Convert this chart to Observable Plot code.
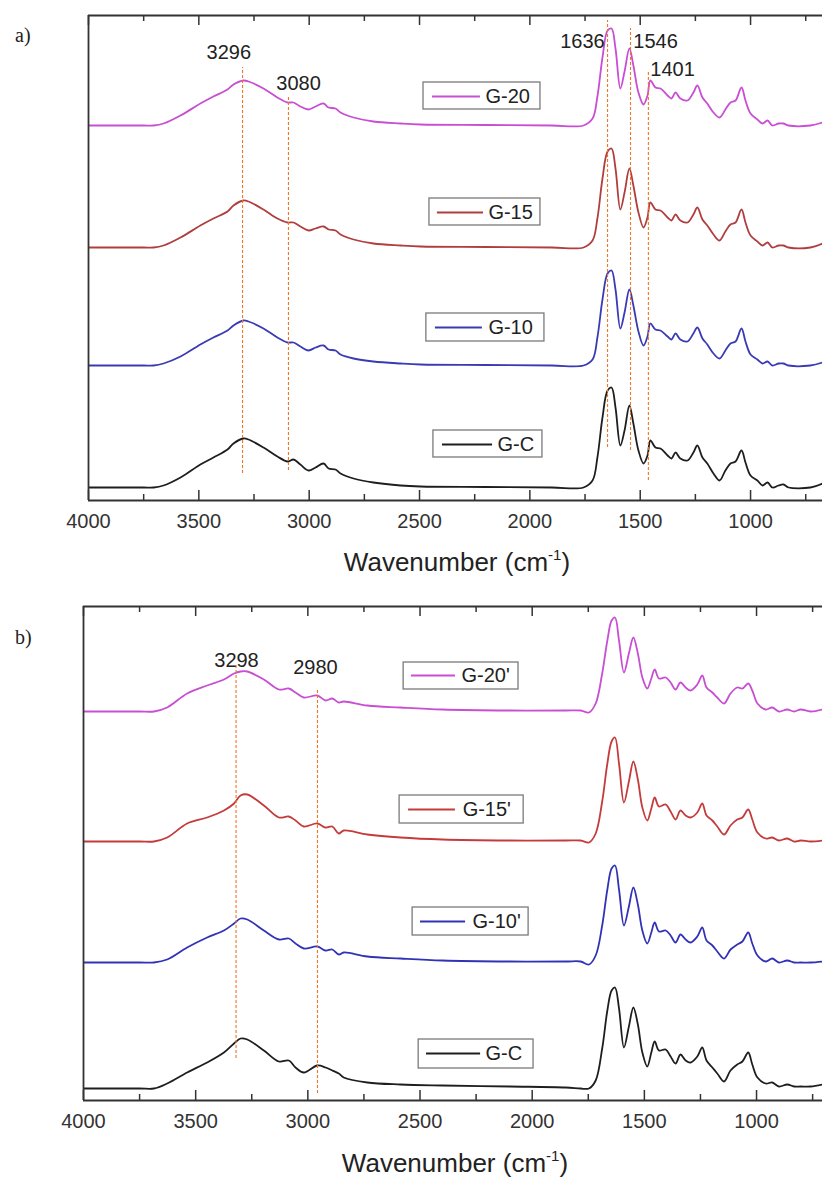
<!DOCTYPE html>
<html><head><meta charset="utf-8">
<script src="https://cdn.jsdelivr.net/npm/d3@7"></script>
<script src="https://cdn.jsdelivr.net/npm/@observablehq/plot@0.6"></script>
<style>
body{margin:0;background:#fff;}
#wrap{position:relative;width:822px;height:1178px;overflow:hidden;background:#fff;}
#wrap svg{display:block;}
.panel{position:absolute;left:0;}
.plabel{position:absolute;font-family:"Liberation Serif","DejaVu Serif",serif;font-size:20px;line-height:20px;color:#222;}
.xtitle{position:absolute;font-family:"Liberation Sans",Arial,sans-serif;font-size:26px;line-height:26px;color:#222;white-space:nowrap;transform:translateX(-50%);}
.xtitle sup{font-size:58%;vertical-align:0.75em;line-height:0;}
</style></head><body>
<div id="wrap">
  <div class="panel" id="pa" style="top:0"></div>
  <div class="panel" id="pb" style="top:590px"></div>
  <div class="plabel" style="left:15px;top:25px">a)</div>
  <div class="plabel" style="left:15px;top:627px">b)</div>
  <div class="xtitle" style="left:457px;top:549px">Wavenumber (cm<sup>-1</sup>)</div>
  <div class="xtitle" style="left:455px;top:1150px">Wavenumber (cm<sup>-1</sup>)</div>
</div>
<script>
// ---------- Panel a data ----------
const wnA = [4000,3750,3705,3660,3583,3493,3434,3370,3343,3298,3275,3207,3144,3098,3071,3040,3003,2971,2935,2912,2881,2858,2799,2709,2586,2496,2200,1900,
  1757,1716,1694,1671,1648,1630,1612,1590,1571,1549,1531,1508,1485,1467,1454,1431,1408,1376,1358,1340,1318,1286,1259,1241,1218,1196,1168,1141,1114,1091,1068,1041,1023,1000,969,946,923,901,873,851,828,729,674];
const g20A = [0,0,0,2,10,22,29,36,41,45, 44,37,28,23,23,19,16,19,22,18, 17,13,8,4,2,1,0.5,0,
  0,7,29,68,95,97,77,37,54,77, 60,33,21,30,45,38,37,30,27,33, 27,25,33,40,28,22,13,8,16,23, 25,38,25,12,6,2,5,0,2,2, 0,0,3];
const g15A = [0,0,0,2,10,22,29,36,42,47, 46,38,29,25,25,21,17,19,21,18, 17,13,8,4,2,1,0.5,0,
  0,7,29,69,96,99,79,38,55,79, 62,35,20,30,45,38,37,30,27,33, 27,25,33,40,28,22,13,7,16,23, 25,38,25,12,6,2,5,0,2,2, 0,0,4];
const g10A = [0,0,0,2,9,21,28,35,40,45, 44,37,28,23,23,19,15,18,20,16, 15,11,7,4,2,1,0.5,0,
  0,6,28,66,92,95,76,37,53,76, 60,34,20,29,42,36,35,29,26,32, 26,24,32,38,27,21,12,7,15,22, 24,37,24,11,6,2,4,0,2,2, 0,0,3];
const gCA = [0,0,0,2,10,23,30,38,44,49, 48,40,31,26,28,23,17,20,24,19, 18,14,9,5,2,1,0.5,0,
  0,7,30,70,97,100,80,42,57,82, 64,37,24,32,47,40,39,32,29,35, 29,27,35,42,30,24,14,7,17,24, 26,37,25,12,7,2,5,0,2,3, 0,0,4];
const namesA = ["G-20","G-15","G-10","G-C"];
const offsetsA = [362,240,122,0];
const guideWnA = [3302,3094,1648,1544,1463];
const guideTopA = [420,392,467,459,415];
const guideBotA = [14,17,40,37,7];
const annTextA = ["3296","3080","1636","1546","1401"];
const annWnA = [3364,3048,1661,1531,1454];
const annVA = [429,398,440,440,412];
const annAnchorA = ["middle","middle","end","start","start"];

// ---------- Panel b data ----------
const wnB = [4000,3750,3686,3627,3538,3449,3374,3329,3300,3270,3196,3129,3085,3055,3018,2958,2921,2891,2862,2840,2735,2587,2400,2100,1850,
  1784,1747,1717,1688,1665,1646,1631,1613,1591,1569,1549,1529,1509,1487,1469,1454,1435,1405,1383,1361,1339,1316,1294,1264,1242,1223,1197,1175,1145,1116,1086,1063,1037,1019,996,959,930,900,863,833,803,759,706];
const g20B = [0,0,0,4,18,26,32,38,40,40, 32,22,23,19,14,16,11,13,9,10, 6,4,2,1,1,
  1,-1,8,38,71,91,94,71,39,58, 74,58,34,23,33,42,33,34,29,22, 29,24,21,27,36,24,19,14,8,18, 24,23,28,21,8,2,4,0,2,0, 2,0,2];
const g15B = [0,0,0,4,18,24,31,38,46,47, 36,24,25,21,15,18,14,15,8,11, 7,4,2,1,1,
  1,-1,8,40,78,100,104,78,39,60, 80,62,34,21,33,44,35,37,30,22, 31,26,24,29,38,26,21,15,7,16, 22,24,32,22,9,3,4,1,3,0, 1,0,1];
const g10B = [0,0,0,3,15,25,32,39,44,43, 32,23,24,19,14,16,12,13,8,10, 6,4,2,1,1,
  1,-2,7,37,73,94,97,73,37,56, 75,58,32,19,30,40,31,32,27,20, 28,23,20,26,35,22,17,11,4,13, 18,21,30,19,7,1,4,0,2,0, 0,0,1];
const gCB = [0,0,0,5,16,26,36,45,50,49, 38,27,28,21,16,23,21,18,15,11, 6,4,3,2,1,
  0,0,8,40,78,98,101,80,41,62, 81,64,36,22,36,47,38,39,32,25, 34,28,26,32,41,28,21,15,7,18, 24,27,36,24,11,5,6,2,4,2, 2,2,4];
const namesB = ["G-20'","G-15'","G-10'","G-C"];
const offsetsB = [377,247,126,0];
const guideWnB = [3320,2957];
const guideTopB = [423,398];
const guideBotB = [30,-5];
const annTextB = ["3298","2980"];
const annWnB = [3318,2966];
const annVB = [422,415];
const annAnchorB = ["middle","middle"];

// axis ticks
const majorTicks = [4000,3500,3000,2500,2000,1500,1000];
const minorTicks = [3750,3250,2750,2250,1750,1250,750];

// legend layout (in data coordinates: wavenumber / a.u.)
const legBoxX1A = [2482,2455,2469,2437], legBoxX2A = [1952,1952,1934,1943];
const legBoxY1A = [378,262,146,30], legBoxY2A = [405,289,174,57];
const legLineX1A = [2441,2419,2428,2396], legLineX2A = [2224,2210,2215,2169];
const legYA = [391,275,160,43], legTextXA = [2201,2188,2188,2147];

const legBoxX1B = [2573,2591,2533,2506], legBoxX2B = [2061,2038,2016,1994];
const legBoxY1B = [399,265,153,20], legBoxY2B = [426,293,181,49];
const legLineX1B = [2538,2551,2498,2471], legLineX2B = [2342,2342,2297,2230];
const legYB = [413,279,167,35], legTextXB = [2315,2310,2266,2208];

const colorsA = ["#c84ed2","#b03e3e","#3a3ab4","#1e1e1e"];
const colorsB = ["#c84ed2","#c43b3b","#3232b6","#1e1e1e"];

const FONT = "'Liberation Sans', Arial, sans-serif";

function makePanel(cfg) {
  const innerH = cfg.height - cfg.marginTop - cfg.marginBottom;
  const marks = [];
  // curves
  cfg.values.forEach((vals, i) => {
    const rows = cfg.wn.map((w, j) => ({wn: w, v: vals[j] + cfg.offsets[i]}));
    marks.push(Plot.line(rows, {x: "wn", y: "v", stroke: cfg.colors[i], strokeWidth: 1.8, curve: "catmull-rom", clip: true}));
  });
  // guides
  const guides = cfg.guideWn.map((w, i) => ({wn: w, y1: cfg.guideBot[i], y2: cfg.guideTop[i]}));
  marks.push(Plot.ruleX(guides, {x: "wn", y1: "y1", y2: "y2", stroke: "#f07524", strokeWidth: 1.1, strokeDasharray: "3,2"}));
  // annotation labels
  const anns = cfg.annText.map((t, i) => ({t, wn: cfg.annWn[i], v: cfg.annV[i], a: cfg.annAnchor[i]}));
  for (const a of ["middle","start","end"]) {
    const sub = anns.filter(d => d.a === a);
    if (sub.length) marks.push(Plot.text(sub, {x: "wn", y: "v", text: "t", textAnchor: a, lineAnchor: "bottom", fontSize: 20, fill: "#222", fontFamily: FONT}));
  }
  // legends
  const leg = cfg.names.map((n, i) => ({n, bx1: cfg.leg.bx1[i], bx2: cfg.leg.bx2[i], by1: cfg.leg.by1[i], by2: cfg.leg.by2[i],
    lx1: cfg.leg.lx1[i], lx2: cfg.leg.lx2[i], ly: cfg.leg.ly[i], tx: cfg.leg.tx[i], c: cfg.colors[i]}));
  marks.push(Plot.rect(leg, {x1: "bx1", x2: "bx2", y1: "by1", y2: "by2", fill: "white", stroke: "#7a7a7a", strokeWidth: 1.3}));
  leg.forEach(d => {
    marks.push(Plot.ruleY([d], {x1: "lx1", x2: "lx2", y: "ly", stroke: d.c, strokeWidth: 1.8}));
  });
  marks.push(Plot.text(leg, {x: "tx", y: "ly", text: "n", textAnchor: "start", lineAnchor: "middle", fontSize: 20, fill: "#222", fontFamily: FONT}));
  // frame (top, left, bottom)
  marks.push(Plot.ruleY([cfg.yDomain[0], cfg.yDomain[1]], {stroke: "#333", strokeWidth: 1.8}));
  marks.push(Plot.ruleX([cfg.xDomain[0]], {stroke: "#333", strokeWidth: 1.8}));
  // inward ticks
  marks.push(Plot.tickX(majorTicks, {x: d => d, insetTop: innerH - 10, stroke: "#333", strokeWidth: 1.5}));
  marks.push(Plot.tickX(minorTicks, {x: d => d, insetTop: innerH - 6, stroke: "#333", strokeWidth: 1.5}));
  marks.push(Plot.tickX(majorTicks, {x: d => d, insetBottom: innerH - 10, stroke: "#333", strokeWidth: 1.5}));
  marks.push(Plot.tickX(minorTicks, {x: d => d, insetBottom: innerH - 6, stroke: "#333", strokeWidth: 1.5}));
  // tick labels
  marks.push(Plot.axisX(majorTicks, {anchor: "bottom", tickSize: 0, tickPadding: 13, label: null, fontSize: 20, fill: "#333", tickFormat: d => String(d), fontFamily: FONT}));

  return Plot.plot({
    width: 822, height: cfg.height,
    marginTop: cfg.marginTop, marginBottom: cfg.marginBottom, marginLeft: cfg.marginLeft, marginRight: 0,
    x: {domain: cfg.xDomain},
    y: {domain: cfg.yDomain, axis: null},
    style: {fontFamily: FONT, fontSize: "20px", background: "white", color: "#333", overflow: "visible"},
    marks
  });
}

document.getElementById("pa").append(makePanel({
  height: 590, marginTop: 15, marginBottom: 90, marginLeft: 88,
  xDomain: [4000, 674], yDomain: [-13, 472],
  wn: wnA, values: [g20A, g15A, g10A, gCA], offsets: offsetsA, colors: colorsA, names: namesA,
  guideWn: guideWnA, guideTop: guideTopA, guideBot: guideBotA,
  annText: annTextA, annWn: annWnA, annV: annVA, annAnchor: annAnchorA,
  leg: {bx1: legBoxX1A, bx2: legBoxX2A, by1: legBoxY1A, by2: legBoxY2A, lx1: legLineX1A, lx2: legLineX2A, ly: legYA, tx: legTextXA}
}));

document.getElementById("pb").append(makePanel({
  height: 588, marginTop: 16, marginBottom: 78, marginLeft: 83,
  xDomain: [4000, 706], yDomain: [-12, 482],
  wn: wnB, values: [g20B, g15B, g10B, gCB], offsets: offsetsB, colors: colorsB, names: namesB,
  guideWn: guideWnB, guideTop: guideTopB, guideBot: guideBotB,
  annText: annTextB, annWn: annWnB, annV: annVB, annAnchor: annAnchorB,
  leg: {bx1: legBoxX1B, bx2: legBoxX2B, by1: legBoxY1B, by2: legBoxY2B, lx1: legLineX1B, lx2: legLineX2B, ly: legYB, tx: legTextXB}
}));
</script>
</body></html>
